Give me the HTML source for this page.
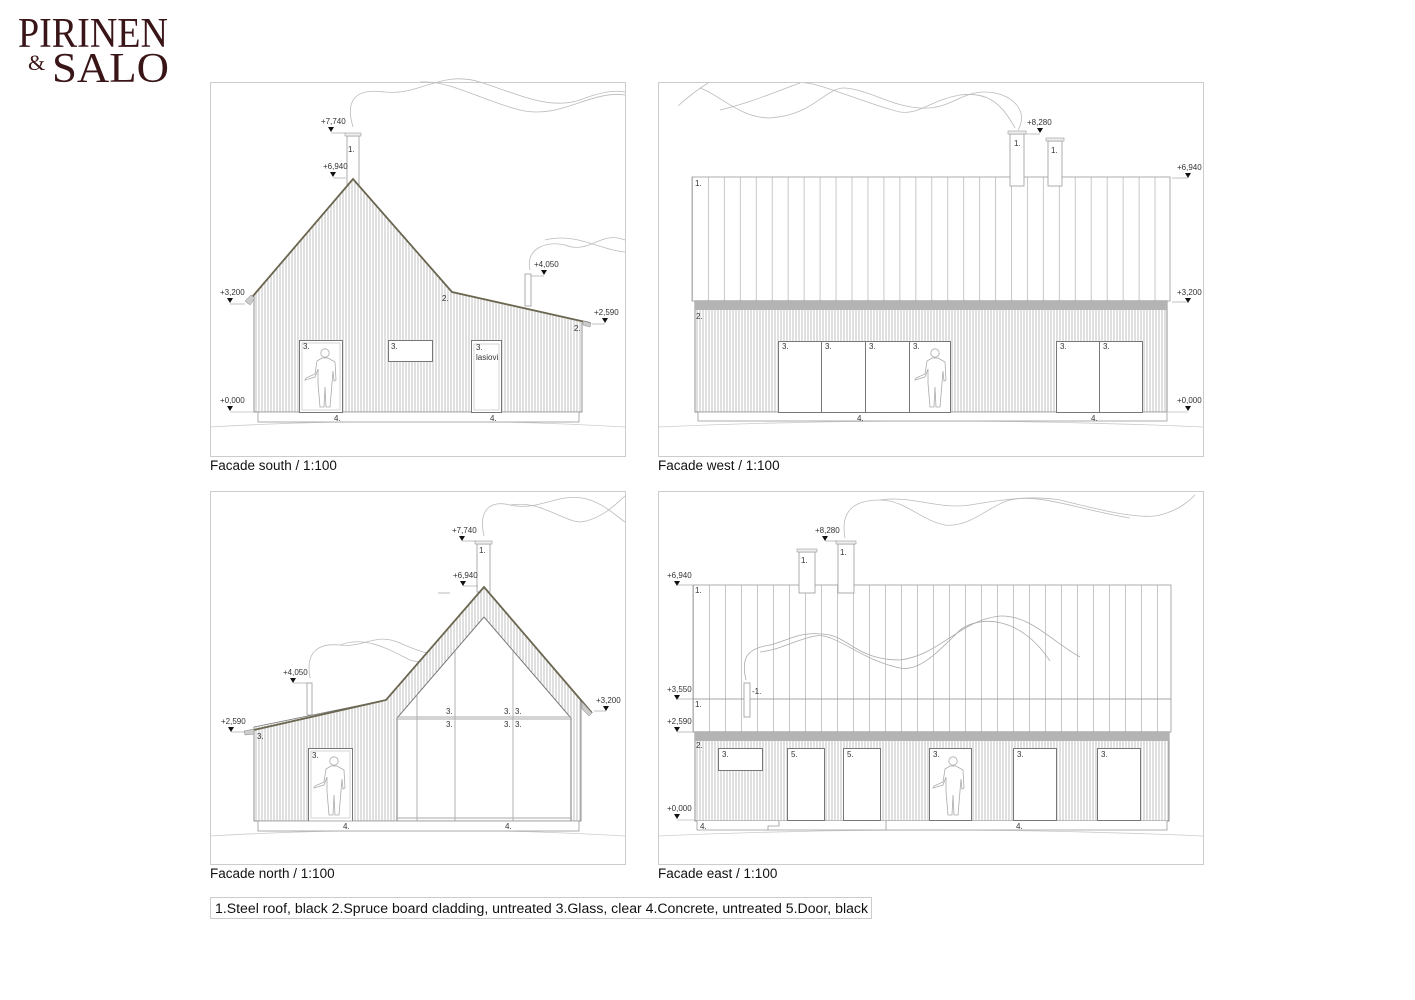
<!DOCTYPE html>
<html><head><meta charset="utf-8"><style>
html,body{margin:0;padding:0;background:#fff;width:1415px;height:1000px;overflow:hidden}
svg{display:block}
.t{font-family:"Liberation Sans",sans-serif;font-size:8px;fill:#333}
.cap{font-family:"Liberation Sans",sans-serif;font-size:13.5px;fill:#111}
</style></head><body>
<svg width="1415" height="1000" viewBox="0 0 1415 1000" xmlns="http://www.w3.org/2000/svg">
<defs>
<pattern id="cl" width="3" height="10" patternUnits="userSpaceOnUse"><rect width="3" height="10" fill="#fff"/><line x1="1" y1="0" x2="1" y2="10" stroke="#a8a8a8" stroke-width="0.7"/></pattern>
<pattern id="band" width="2" height="10" patternUnits="userSpaceOnUse"><rect width="2" height="10" fill="#d0d0d0"/><line x1="1" y1="0" x2="1" y2="10" stroke="#888" stroke-width="0.8"/></pattern>
<pattern id="seamW" x="692" width="15.95" height="10" patternUnits="userSpaceOnUse"><rect width="16" height="10" fill="#fff"/><line x1="0.5" y1="0" x2="0.5" y2="10" stroke="#bbb" stroke-width="0.8"/></pattern>
<pattern id="seamE" x="693" width="16" height="10" patternUnits="userSpaceOnUse"><rect width="16" height="10" fill="#fff"/><line x1="0.5" y1="0" x2="0.5" y2="10" stroke="#bbb" stroke-width="0.8"/></pattern>
<g id="man"><path d="M-3,9 L-8,12 L-10,25 L-19,29 L-20,31 L-10,28 L-7,20 L-7,34 L-5,58 L-1,58 L0,38 L1,58 L5,58 L7,34 L8,22 L9,32 L11,31 L10,13 L3,9 Z" fill="#fff" stroke="#aaa" stroke-width="0.8"/><circle cx="0" cy="4" r="4.2" fill="#fff" stroke="#aaa" stroke-width="0.8"/></g>
<g id="tri"><path d="M-3,0 L3,0 L0,5 Z" fill="#111"/></g>
</defs>

<!-- Logo -->
<text x="18" y="47" font-family="Liberation Serif,serif" font-size="42" fill="#3a1518" textLength="150" lengthAdjust="spacingAndGlyphs">PIRINEN</text>
<text x="28" y="70" font-family="Liberation Serif,serif" font-size="22" fill="#3a1518">&amp;</text>
<text x="52" y="82" font-family="Liberation Serif,serif" font-size="42" fill="#3a1518" textLength="117" lengthAdjust="spacingAndGlyphs">SALO</text>

<!-- Frames -->
<g fill="none" stroke="#ccc" stroke-width="1">
<rect x="210.5" y="82.5" width="415" height="374"/>
<rect x="658.5" y="82.5" width="545" height="374"/>
<rect x="210.5" y="491.5" width="415" height="373"/>
<rect x="658.5" y="491.5" width="545" height="373"/>
</g>

<!-- ===== SOUTH ===== -->
<g>
<path d="M210,427 Q418,415 625,427" fill="none" stroke="#ccc" stroke-width="0.8"/>
<path d="M353,127 C345,100 355,88 385,92 C420,96 440,70 480,82 C520,95 550,110 580,100 C600,92 615,90 625,92" fill="none" stroke="#bbb" stroke-width="0.8"/>
<path d="M420,82 C450,80 480,100 520,110 C560,120 590,90 625,95" fill="none" stroke="#bbb" stroke-width="0.8"/>
<path d="M530,270 C525,250 545,240 565,245 C590,255 600,230 625,240" fill="none" stroke="#bbb" stroke-width="0.8"/>
<path d="M545,240 C575,232 600,250 625,252" fill="none" stroke="#bbb" stroke-width="0.8"/>
<rect x="347" y="136" width="12" height="50" fill="#fff" stroke="#999" stroke-width="0.8"/>
<rect x="345" y="133" width="16" height="3" fill="#eee" stroke="#999" stroke-width="0.6"/>
<rect x="525" y="274" width="6" height="32" fill="#fff" stroke="#999" stroke-width="0.8"/>
<polygon points="254,412 254,295 353,179 452,292 582,321 582,412" fill="url(#cl)" stroke="#777" stroke-width="0.8"/>
<polyline points="247,303 353,179 452,292 590,323" fill="none" stroke="#6b6650" stroke-width="1.8"/>
<polygon points="245,301 250,305 255,298 251,295" fill="#ccc" stroke="#888" stroke-width="0.5"/>
<polygon points="583,321 591,323 590,327 583,325" fill="#ccc" stroke="#888" stroke-width="0.5"/>
<rect x="258" y="412" width="321" height="10" fill="#fff" stroke="#999" stroke-width="0.8"/>
<rect x="299.5" y="340.5" width="43" height="72" fill="#fff" stroke="#777" stroke-width="1"/>
<rect x="302" y="343" width="38" height="67" fill="none" stroke="#bbb" stroke-width="0.6"/>
<use href="#man" transform="translate(325,349)"/>
<rect x="388.5" y="340.5" width="44" height="21" fill="#fff" stroke="#777" stroke-width="1"/>
<rect x="471.5" y="340.5" width="30" height="72" fill="#fff" stroke="#777" stroke-width="1"/>
<rect x="474" y="344" width="25" height="66" fill="none" stroke="#bbb" stroke-width="0.6"/>
<text class="t" x="303" y="349">3.</text><text class="t" x="391" y="349">3.</text>
<text class="t" x="476" y="350">3.</text><text class="t" x="476" y="360">lasiovi</text>
<text class="t" x="348" y="152">1.</text>
<text class="t" x="442" y="301">2.</text><text class="t" x="574" y="331">2.</text>
<text class="t" x="334" y="421">4.</text><text class="t" x="490" y="421">4.</text>
<text class="t" x="321" y="124">+7,740</text><use href="#tri" x="331" y="127"/><line x1="331" y1="133" x2="345" y2="133" stroke="#999" stroke-width="0.6"/>
<text class="t" x="323" y="169">+6,940</text><use href="#tri" x="333" y="172"/><line x1="333" y1="178" x2="346" y2="178" stroke="#999" stroke-width="0.6"/>
<text class="t" x="220" y="295">+3,200</text><use href="#tri" x="230" y="298"/><line x1="230" y1="304" x2="245" y2="304" stroke="#999" stroke-width="0.6"/>
<text class="t" x="534" y="267">+4,050</text><use href="#tri" x="544" y="270"/><line x1="531" y1="276" x2="544" y2="276" stroke="#999" stroke-width="0.6"/>
<text class="t" x="594" y="315">+2,590</text><use href="#tri" x="605" y="318"/><line x1="592" y1="324" x2="605" y2="324" stroke="#999" stroke-width="0.6"/>
<text class="t" x="220" y="403">+0,000</text><use href="#tri" x="230" y="406"/><line x1="230" y1="412" x2="254" y2="412" stroke="#999" stroke-width="0.6"/>
</g>
<text class="cap" x="210" y="470">Facade south / 1:100</text>

<!-- ===== WEST ===== -->
<g>
<path d="M658,427 Q930,415 1203,427" fill="none" stroke="#ccc" stroke-width="0.8"/>
<path d="M1018,130 C1030,110 1010,92 985,92 C960,92 950,110 920,108 C890,106 870,90 845,88 C825,87 815,115 770,118 C740,118 720,95 700,88" fill="none" stroke="#bbb" stroke-width="0.8"/>
<path d="M1015,128 C1000,100 985,92 960,95 C930,100 920,115 900,112 C870,105 820,83 805,83 M720,110 C750,103 780,90 800,83" fill="none" stroke="#bbb" stroke-width="0.8"/>
<path d="M678,106 C690,95 700,88 708,83" fill="none" stroke="#bbb" stroke-width="0.8"/>
<rect x="692" y="177" width="478" height="124" fill="url(#seamW)" stroke="#999" stroke-width="0.8"/>
<rect x="1010" y="134" width="14" height="52" fill="#fff" stroke="#999" stroke-width="0.8"/>
<rect x="1008" y="131" width="18" height="3" fill="#eee" stroke="#999" stroke-width="0.6"/>
<rect x="1048" y="141" width="14" height="45" fill="#fff" stroke="#999" stroke-width="0.8"/>
<rect x="1046" y="138" width="18" height="3" fill="#eee" stroke="#999" stroke-width="0.6"/>
<rect x="695" y="301" width="472" height="111" fill="url(#cl)" stroke="#777" stroke-width="0.8"/>
<rect x="695" y="301" width="472" height="9" fill="url(#band)"/>
<rect x="698" y="412" width="469" height="9" fill="#fff" stroke="#999" stroke-width="0.8"/>
<g fill="#fff" stroke="#777" stroke-width="1">
<rect x="778.5" y="341.5" width="43" height="71"/><rect x="821.5" y="341.5" width="44" height="71"/><rect x="865.5" y="341.5" width="44" height="71"/><rect x="909.5" y="341.5" width="41" height="71"/>
<rect x="1056.5" y="341.5" width="43" height="71"/><rect x="1099.5" y="341.5" width="43" height="71"/>
</g>
<use href="#man" transform="translate(935,349)"/>
<g class="t"><text class="t" x="782" y="349">3.</text><text class="t" x="825" y="349">3.</text><text class="t" x="869" y="349">3.</text><text class="t" x="913" y="349">3.</text><text class="t" x="1060" y="349">3.</text><text class="t" x="1103" y="349">3.</text></g>
<text class="t" x="695" y="186">1.</text><text class="t" x="696" y="319">2.</text>
<text class="t" x="1014" y="146">1.</text><text class="t" x="1051" y="153">1.</text>
<text class="t" x="857" y="421">4.</text><text class="t" x="1091" y="421">4.</text>
<text class="t" x="1027" y="125">+8,280</text><use href="#tri" x="1040" y="128"/><line x1="1026" y1="134" x2="1040" y2="134" stroke="#999" stroke-width="0.6"/>
<text class="t" x="1177" y="170">+6,940</text><use href="#tri" x="1188" y="173"/><line x1="1172" y1="178" x2="1188" y2="178" stroke="#999" stroke-width="0.6"/>
<text class="t" x="1177" y="295">+3,200</text><use href="#tri" x="1188" y="298"/><line x1="1172" y1="302" x2="1188" y2="302" stroke="#999" stroke-width="0.6"/>
<text class="t" x="1177" y="403">+0,000</text><use href="#tri" x="1188" y="406"/><line x1="1168" y1="412" x2="1188" y2="412" stroke="#999" stroke-width="0.6"/>
</g>
<text class="cap" x="658" y="470">Facade west / 1:100</text>

<!-- ===== NORTH ===== -->
<g>
<path d="M210,836 Q418,824 625,836" fill="none" stroke="#ccc" stroke-width="0.8"/>
<path d="M484,536 C478,510 490,500 510,505 C540,512 560,490 590,500 C605,505 615,515 625,522" fill="none" stroke="#bbb" stroke-width="0.8"/>
<path d="M510,505 C540,500 560,520 580,522 C600,520 615,505 625,496" fill="none" stroke="#bbb" stroke-width="0.8"/>
<path d="M310,678 C305,650 320,643 340,645 C365,648 375,632 400,643 C420,652 430,655 448,655" fill="none" stroke="#bbb" stroke-width="0.8"/>
<path d="M340,645 C365,635 390,650 410,660 C425,665 440,658 448,655" fill="none" stroke="#bbb" stroke-width="0.8"/>
<rect x="477" y="544" width="13" height="48" fill="#fff" stroke="#999" stroke-width="0.8"/>
<rect x="475" y="541" width="17" height="3" fill="#eee" stroke="#999" stroke-width="0.6"/>
<rect x="307" y="683" width="5" height="32" fill="#fff" stroke="#999" stroke-width="0.8"/>
<line x1="438" y1="593" x2="450" y2="593" stroke="#aaa" stroke-width="0.8"/>
<polygon points="254,821 254,727 386,700 484,587 581,700 581,821" fill="url(#cl)" stroke="#777" stroke-width="0.8"/>
<polyline points="245,732 386,700 484,587 592,713" fill="none" stroke="#6b6650" stroke-width="1.8"/>
<polygon points="244,731 254,729 254,734 245,735" fill="#ccc" stroke="#888" stroke-width="0.5"/>
<polygon points="582,702 592,713 589,716 582,709" fill="#ccc" stroke="#888" stroke-width="0.5"/>
<polygon points="397,821 397,718 484,617 571,718 571,821" fill="#fff" stroke="#777" stroke-width="1"/>
<g stroke="#aaa" stroke-width="0.9">
<line x1="397" y1="717" x2="571" y2="717"/><line x1="397" y1="719" x2="571" y2="719"/>
<line x1="417" y1="695" x2="417" y2="821"/><line x1="455" y1="651" x2="455" y2="821"/><line x1="513" y1="651" x2="513" y2="821"/>
<line x1="397" y1="818" x2="571" y2="818"/>
</g>
<rect x="308.5" y="748.5" width="44" height="73" fill="#fff" stroke="#777" stroke-width="1"/>
<rect x="311" y="751" width="39" height="67" fill="none" stroke="#bbb" stroke-width="0.6"/>
<use href="#man" transform="translate(334,757)"/>
<rect x="258" y="821" width="321" height="10" fill="#fff" stroke="#999" stroke-width="0.8"/>
<text class="t" x="312" y="758">3.</text><text class="t" x="257" y="739">3.</text>
<text class="t" x="446" y="714">3.</text><text class="t" x="446" y="727">3.</text>
<text class="t" x="504" y="714">3.</text><text class="t" x="504" y="727">3.</text>
<text class="t" x="515" y="714">3.</text><text class="t" x="515" y="727">3.</text>
<text class="t" x="479" y="553">1.</text>
<text class="t" x="343" y="829">4.</text><text class="t" x="505" y="829">4.</text>
<text class="t" x="452" y="533">+7,740</text><use href="#tri" x="462" y="536"/><line x1="462" y1="541" x2="476" y2="541" stroke="#999" stroke-width="0.6"/>
<text class="t" x="453" y="578">+6,940</text><use href="#tri" x="463" y="581"/><line x1="463" y1="586" x2="478" y2="586" stroke="#999" stroke-width="0.6"/>
<text class="t" x="283" y="675">+4,050</text><use href="#tri" x="293" y="678"/><line x1="293" y1="683" x2="307" y2="683" stroke="#999" stroke-width="0.6"/>
<text class="t" x="221" y="724">+2,590</text><use href="#tri" x="231" y="727"/><line x1="231" y1="732" x2="245" y2="732" stroke="#999" stroke-width="0.6"/>
<text class="t" x="596" y="703">+3,200</text><use href="#tri" x="606" y="706"/><line x1="594" y1="711" x2="606" y2="711" stroke="#999" stroke-width="0.6"/>
</g>
<text class="cap" x="210" y="878">Facade north / 1:100</text>

<!-- ===== EAST ===== -->
<g>
<path d="M658,836 Q930,824 1203,836" fill="none" stroke="#ccc" stroke-width="0.8"/>
<path d="M845,538 C840,510 855,500 880,500 C905,500 920,520 945,525 C970,528 990,505 1010,500 C1040,493 1080,510 1130,518" fill="none" stroke="#bbb" stroke-width="0.8"/>
<path d="M880,500 C910,495 940,510 970,505 C1000,500 1030,495 1060,500 C1100,510 1140,520 1160,515 C1180,510 1190,500 1195,495" fill="none" stroke="#bbb" stroke-width="0.8"/>
<path d="M746,680 C740,655 750,648 770,645 C790,640 800,630 830,635 C850,640 860,660 900,660 C940,655 960,620 1000,616 C1030,615 1050,640 1080,657" fill="none" stroke="#bbb" stroke-width="0.8"/>
<path d="M760,652 C780,650 795,640 815,636 C835,632 860,660 900,668 C920,672 940,650 960,630 C980,615 1020,616 1050,661" fill="none" stroke="#bbb" stroke-width="0.8"/>
<rect x="693" y="585" width="478" height="147" fill="url(#seamE)" stroke="#999" stroke-width="0.8"/>
<path d="M746,680 C740,655 750,648 770,645 C790,640 800,630 830,635 C850,640 860,660 900,660 C940,655 960,620 1000,616 C1030,615 1050,640 1080,657" fill="none" stroke="#aaa" stroke-width="0.8"/>
<path d="M760,652 C780,650 795,640 815,636 C835,632 860,660 900,668 C920,672 940,650 960,630 C980,615 1020,616 1050,661" fill="none" stroke="#aaa" stroke-width="0.8"/>
<line x1="693" y1="699" x2="1171" y2="699" stroke="#888" stroke-width="0.8"/>
<rect x="744" y="683" width="6" height="34" fill="#fff" stroke="#999" stroke-width="0.8"/>
<rect x="799" y="552" width="16" height="41" fill="#fff" stroke="#999" stroke-width="0.8"/>
<rect x="797" y="549" width="20" height="3" fill="#eee" stroke="#999" stroke-width="0.6"/>
<rect x="838" y="544" width="16" height="49" fill="#fff" stroke="#999" stroke-width="0.8"/>
<rect x="836" y="541" width="20" height="3" fill="#eee" stroke="#999" stroke-width="0.6"/>
<rect x="695" y="732" width="474" height="89" fill="url(#cl)" stroke="#777" stroke-width="0.8"/>
<rect x="695" y="732" width="474" height="9" fill="url(#band)"/>
<g fill="#fff" stroke="#777" stroke-width="1">
<rect x="718.5" y="748.5" width="44" height="22"/>
<rect x="787.5" y="748.5" width="37" height="72"/><rect x="843.5" y="748.5" width="37" height="72"/>
<rect x="929.5" y="748.5" width="42" height="72"/><rect x="1013.5" y="748.5" width="43" height="72"/><rect x="1097.5" y="748.5" width="43" height="72"/>
</g>
<use href="#man" transform="translate(953,757)"/>
<path d="M697,821 L697,830 L1167,830 L1167,821 M779,821 L779,826 L768,826 L768,830 M886,821 L886,830" fill="#fff" stroke="#999" stroke-width="0.8"/>
<text class="t" x="722" y="757">3.</text><text class="t" x="791" y="757">5.</text><text class="t" x="847" y="757">5.</text>
<text class="t" x="933" y="757">3.</text><text class="t" x="1017" y="757">3.</text><text class="t" x="1101" y="757">3.</text>
<text class="t" x="695" y="593">1.</text><text class="t" x="695" y="707">1.</text><text class="t" x="696" y="748">2.</text>
<text class="t" x="752" y="694">-1.</text>
<text class="t" x="801" y="563">1.</text><text class="t" x="840" y="555">1.</text>
<text class="t" x="700" y="829">4.</text><text class="t" x="1016" y="829">4.</text>
<text class="t" x="815" y="533">+8,280</text><use href="#tri" x="825" y="536"/><line x1="825" y1="541" x2="837" y2="541" stroke="#999" stroke-width="0.6"/>
<text class="t" x="667" y="578">+6,940</text><use href="#tri" x="677" y="581"/><line x1="677" y1="585" x2="693" y2="585" stroke="#999" stroke-width="0.6"/>
<text class="t" x="667" y="692">+3,550</text><use href="#tri" x="677" y="695"/><line x1="677" y1="699" x2="693" y2="699" stroke="#999" stroke-width="0.6"/>
<text class="t" x="667" y="724">+2,590</text><use href="#tri" x="677" y="727"/><line x1="677" y1="732" x2="693" y2="732" stroke="#999" stroke-width="0.6"/>
<text class="t" x="667" y="811">+0,000</text><use href="#tri" x="677" y="814"/><line x1="677" y1="820" x2="695" y2="820" stroke="#999" stroke-width="0.6"/>
</g>
<text class="cap" x="658" y="878">Facade east / 1:100</text>

<!-- Legend -->
<rect x="210.5" y="897.5" width="661" height="21" fill="#fff" stroke="#ccc" stroke-width="1"/>
<text class="cap" x="215" y="913" textLength="653" lengthAdjust="spacingAndGlyphs">1.Steel roof, black 2.Spruce board cladding, untreated 3.Glass, clear 4.Concrete, untreated 5.Door, black</text>
</svg>
</body></html>
